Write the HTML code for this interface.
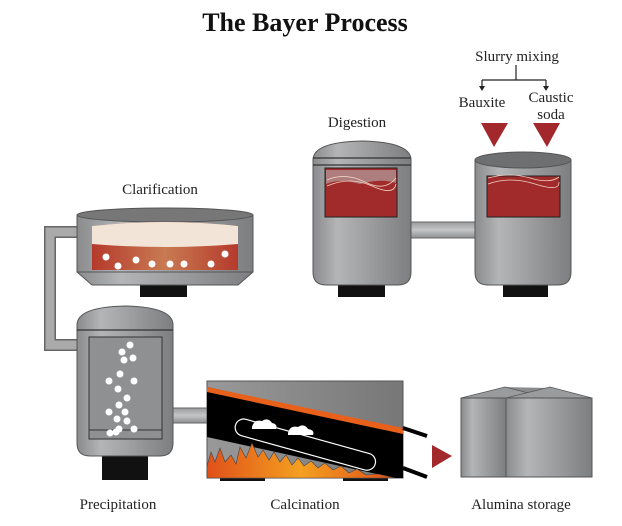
<!DOCTYPE html>
<html><head><meta charset="utf-8"><style>
html,body{margin:0;padding:0;background:#fff;}
svg{display:block;}
text{font-family:"Liberation Serif",serif;fill:#222;}
</style></head><body>
<svg width="622" height="526" viewBox="0 0 622 526" xmlns="http://www.w3.org/2000/svg">
<defs>
<linearGradient id="g" x1="0" x2="1" y1="0" y2="0">
<stop offset="0" stop-color="#8a8b8d"/><stop offset="0.25" stop-color="#b4b5b7"/><stop offset="1" stop-color="#7d7e80"/></linearGradient>
<linearGradient id="gv" x1="0" x2="0" y1="0" y2="1">
<stop offset="0" stop-color="#9a9b9d"/><stop offset="0.5" stop-color="#c4c5c7"/><stop offset="1" stop-color="#8e8f91"/></linearGradient>
<linearGradient id="cl" x1="0" x2="1"><stop offset="0" stop-color="#b53a2c"/><stop offset="0.5" stop-color="#c87a52"/><stop offset="1" stop-color="#b53a2c"/></linearGradient>
<linearGradient id="fire" x1="0" x2="1"><stop offset="0" stop-color="#e0501a"/><stop offset="0.5" stop-color="#f4a020"/><stop offset="1" stop-color="#e0501a"/></linearGradient>
<linearGradient id="kg" x1="0" x2="1"><stop offset="0" stop-color="#999"/><stop offset="1" stop-color="#777"/></linearGradient>
</defs>
<text x="305" y="31" text-anchor="middle" font-size="26" font-weight="bold" style="fill:#111">The Bayer Process</text>

<text x="517" y="61" text-anchor="middle" font-size="15">Slurry mixing</text>
<path d="M516 65V80M482 80H546M482 80V88M546 80V88" stroke="#222" stroke-width="1.2" fill="none"/>
<path d="M479 86l3 5 3-5zM543 86l3 5 3-5z" fill="#222"/>
<text x="482" y="107" text-anchor="middle" font-size="15">Bauxite</text>
<text x="551" y="102" text-anchor="middle" font-size="15">Caustic</text>
<text x="551" y="119" text-anchor="middle" font-size="15">soda</text>
<text x="357" y="127" text-anchor="middle" font-size="15">Digestion</text>
<polygon points="481,123 508,123 494,147" fill="#a3282c"/>
<polygon points="533,123 560,123 547,147" fill="#a3282c"/>

<rect x="410" y="222" width="68" height="16" fill="url(#gv)" stroke="#666"/>
<rect x="338" y="284" width="47" height="13" fill="#111"/>
<path d="M313 160 Q313 142 362 141 Q411 142 411 160 V272 Q411 285 398 285 H326 Q313 285 313 272Z" fill="url(#g)" stroke="#555"/>
<path d="M313 158H411M313 165H411" stroke="#333" stroke-width="1.2"/>
<rect x="325" y="168" width="72" height="49" fill="#a12a2b" stroke="#222"/>
<path d="M326 170H396V183Q380 178 360 184Q340 178 326 184Z" fill="#b8b8b8" opacity="0.6"/>
<path d="M327 180Q345 172 365 182T396 178M327 186Q350 176 372 186T396 184" stroke="#f0d0c0" fill="none" stroke-width="0.8"/>

<rect x="503" y="284" width="45" height="13" fill="#111"/>
<path d="M475 160 V272 Q475 285 488 285 H558 Q571 285 571 272 V160Z" fill="url(#g)" stroke="#555"/>
<ellipse cx="523" cy="160" rx="48" ry="8" fill="#6e6f71" stroke="#555"/>
<rect x="487" y="176" width="73" height="41" fill="#a12a2b" stroke="#222"/>
<path d="M488 178Q510 172 530 178T559 177M488 184Q510 176 535 184T559 182" stroke="#f0d0c0" fill="none" stroke-width="0.8"/>

<text x="160" y="194" text-anchor="middle" font-size="15">Clarification</text>
<path d="M77 232H50V345H77" stroke="#666" stroke-width="12" fill="none"/>
<path d="M77 232H50V345H77" stroke="#aaa" stroke-width="9" fill="none"/>
<rect x="140" y="284" width="47" height="13" fill="#111"/>
<path d="M77 215 L77 272 L92 285 L238 285 L253 272 L253 215Z" fill="url(#g)" stroke="#555"/>
<ellipse cx="165" cy="215" rx="88" ry="7" fill="#777" stroke="#555"/>
<path d="M92 226 Q165 218 238 226 V270 H92Z" fill="url(#cl)"/>
<path d="M92 226 Q165 218 238 226 V244 Q165 250 92 244Z" fill="#f3e4d8"/>
<path d="M77 272H253" stroke="#555"/>
<g fill="#fff"><circle cx="106" cy="257" r="3.5"/><circle cx="118" cy="266" r="3.5"/><circle cx="136" cy="260" r="3.5"/><circle cx="152" cy="264" r="3.5"/><circle cx="170" cy="264" r="3.5"/><circle cx="184" cy="264" r="3.5"/><circle cx="211" cy="264" r="3.5"/><circle cx="225" cy="254" r="3.5"/></g>

<rect x="102" y="454" width="46" height="26" fill="#111"/>
<rect x="170" y="408" width="40" height="15" fill="url(#gv)" stroke="#666"/>
<path d="M77 325 Q77 307 125 306 Q173 307 173 325 V443 Q173 456 160 456 H90 Q77 456 77 443Z" fill="url(#g)" stroke="#555"/>
<path d="M77 330H173" stroke="#333" stroke-width="1.2"/>
<rect x="89" y="337" width="73" height="102" fill="#8f9092" stroke="#333"/>
<path d="M89 430H162" stroke="#333"/>
<g fill="#fff"><circle cx="130" cy="345" r="3.5"/><circle cx="122" cy="352" r="3.5"/><circle cx="133" cy="358" r="3.5"/><circle cx="124" cy="360" r="3.5"/><circle cx="120" cy="374" r="3.5"/><circle cx="109" cy="381" r="3.5"/><circle cx="134" cy="381" r="3.5"/><circle cx="118" cy="389" r="3.5"/><circle cx="127" cy="398" r="3.5"/><circle cx="119" cy="405" r="3.5"/><circle cx="109" cy="412" r="3.5"/><circle cx="125" cy="412" r="3.5"/><circle cx="117" cy="419" r="3.5"/><circle cx="127" cy="421" r="3.5"/><circle cx="119" cy="429" r="3.5"/><circle cx="134" cy="429" r="3.5"/><circle cx="110" cy="433" r="3.5"/><circle cx="116" cy="432" r="3.5"/></g>

<rect x="220" y="477" width="45" height="4" fill="#111"/>
<rect x="343" y="477" width="45" height="4" fill="#111"/>
<rect x="207" y="381" width="196" height="97" fill="url(#kg)" stroke="#555"/>
<polygon points="207,387 403,430 403,478 395,478 207,437" fill="#000"/>
<polygon points="207,387 403,428 403,434 207,392" fill="#e8601a"/>
<polygon points="207,478 207,466 211,452 215,462 220,448 225,462 231,455 236,464 240,447 246,458 252,443 258,457 263,450 269,460 274,452 280,462 286,455 292,465 298,458 304,466 311,461 318,468 325,463 333,470 341,466 349,473 357,469 366,475 378,474 395,478" fill="url(#fire)" stroke="#444" stroke-width="0.6"/>
<rect x="233" y="436" width="145" height="17" rx="8.5" transform="rotate(15.5 305 444)" fill="none" stroke="#fff" stroke-width="1.2"/>
<path d="M252 427q2-8 10-6q6-4 10 2q6 1 4 6h-24z" fill="#fff"/>
<path d="M288 433q2-8 10-6q6-4 10 2q7 1 5 6h-25z" fill="#fff"/>
<path d="M403 428L427 436M403 468L427 477" stroke="#000" stroke-width="4"/>
<polygon points="432,445 452,456 432,468" fill="#a3282c"/>

<polygon points="461,398 505,387 550,388 592,398 592,477 461,477" fill="#8a8b8d"/>
<polygon points="461,398 505,387 540,396 506,398" fill="#9a9b9d" stroke="#555" stroke-width="0.7"/>
<polygon points="506,398 550,387 592,398" fill="#9a9b9d" stroke="#555" stroke-width="0.7"/>
<rect x="461" y="398" width="45" height="79" fill="url(#g)" stroke="#555"/>
<rect x="506" y="398" width="86" height="79" fill="url(#g)" stroke="#555"/>

<text x="118" y="509" text-anchor="middle" font-size="15">Precipitation</text>
<text x="305" y="509" text-anchor="middle" font-size="15">Calcination</text>
<text x="521" y="509" text-anchor="middle" font-size="15">Alumina storage</text>
</svg>
</body></html>
